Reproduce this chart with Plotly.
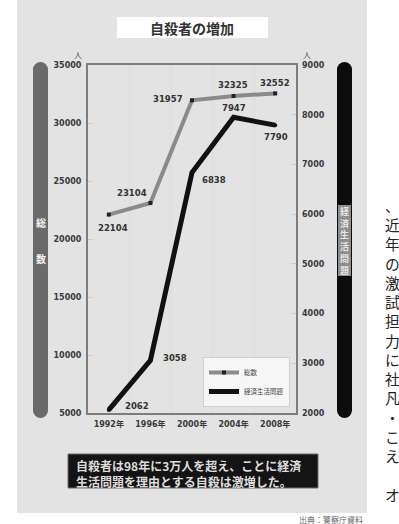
import plotly.graph_objects as go

# Suicide counts in Japan (total vs. economic / livelihood reasons)
years = ["1992年", "1996年", "2000年", "2004年", "2008年"]
total = [22104, 23104, 31957, 32325, 32552]
economic = [2062, 3058, 6838, 7947, 7790]

left_ticks = [5000, 10000, 15000, 20000, 25000, 30000, 35000]
right_ticks = [2000, 3000, 4000, 5000, 6000, 7000, 8000, 9000]

W, H = 399, 524
L, R, T, B = 88, 296, 65, 413

def px(x):
    return (x - L) / (R - L)

def py(y):
    return (B - y) / (B - T)

NUM_FONT = "DejaVu Sans, Noto Sans CJK JP"
JP_FONT = "Noto Sans CJK JP"

fig = go.Figure()
fig.add_trace(go.Scatter(
    x=years, y=total, name="総数", yaxis="y",
    mode="lines+markers",
    line=dict(color="#8a8a8a", width=4),
    marker=dict(size=4, color="#222222", symbol="square"),
))
fig.add_trace(go.Scatter(
    x=years, y=economic, name="経済生活問題", yaxis="y2",
    mode="lines+markers",
    line=dict(color="#111111", width=5),
    marker=dict(size=4, color="#111111"),
))

shapes = []
# grey page panel
shapes.append(dict(type="rect", xref="paper", yref="paper",
                   x0=px(17), x1=px(367), y0=py(513), y1=py(-5),
                   fillcolor="#e3e3e3", line=dict(width=0), layer="below"))
# title box
shapes.append(dict(type="rect", xref="paper", yref="paper",
                   x0=px(117), x1=px(268), y0=py(38), y1=py(17),
                   fillcolor="#ffffff", line=dict(width=0), layer="below"))

# rounded side bars
def side_bar(x0, x1, y0, y1, color):
    r = (x1 - x0) / 2
    out = [dict(type="rect", xref="paper", yref="paper",
                x0=px(x0), x1=px(x1), y0=py(y1 - r), y1=py(y0 + r),
                fillcolor=color, line=dict(width=0), layer="below")]
    for cy in (y0 + r, y1 - r):
        out.append(dict(type="circle", xref="paper", yref="paper",
                        x0=px(x0), x1=px(x1), y0=py(cy + r), y1=py(cy - r),
                        fillcolor=color, line=dict(width=0), layer="below"))
    return out

shapes += side_bar(33, 48, 62, 418, "#6a6a6a")
shapes += side_bar(337, 352, 62, 418, "#0c0c0c")
shapes.append(dict(type="rect", xref="paper", yref="paper",
                   x0=px(338), x1=px(351), y0=py(276), y1=py(205),
                   fillcolor="#8e8e8e", line=dict(width=0)))

# caption box
shapes.append(dict(type="rect", xref="paper", yref="paper",
                   x0=px(68), x1=px(318), y0=py(488), y1=py(454),
                   fillcolor="#141414", line=dict(color="#6a6a6a", width=1)))

annotations = []

def note(x, y, text, size, color, family=JP_FONT, weight="normal",
         xanchor="center", yanchor="middle", align="center"):
    annotations.append(dict(x=px(x), y=py(y), xref="paper", yref="paper",
                            text=text, showarrow=False, align=align,
                            xanchor=xanchor, yanchor=yanchor,
                            font=dict(family=family, size=size, color=color,
                                      weight=weight)))

note(192, 28, "自殺者の増加", 14, "#333333", weight="bold")
note(78, 55, "人", 8, "#555555")
note(307, 55, "人", 8, "#555555")
note(40.5, 223, "総", 10, "#f4f4f4", weight="bold")
note(40.5, 258, "数", 10, "#f4f4f4", weight="bold")
# vertical label on the black bar
note(344.5, 240.5, "<br>".join("経済生活問題"), 9, "#e6e6e6", weight="bold")

note(74, 465, "自殺者は98年に3万人を超え、ことに経済", 12, "#dddddd",
     weight="bold", xanchor="left")
note(74, 481, "生活問題を理由とする自殺は激増した。", 12, "#dddddd",
     weight="bold", xanchor="left")
note(331, 519, "出典：警察庁資料", 8, "#666666")

# body text column of the facing page
column = ["、", "近", "年", "の", "激", "試", "担", "力", "に", "社",
          "凡", "・", "こ", "え", "", "オ"]
note(392, 203 - 9.6, "<br>".join(column), 14.8, "#222222", yanchor="top")

# value labels next to the points
LBL = dict(family=NUM_FONT, size=8.5, color="#333333", weight="bold")
total_shift = [(4, -13), (-18, 10), (-24, 1), (-1, 11), (0, 10)]
econ_shift = [(28, 4), (25, 2), (22, -8), (0, 9), (1, -12)]
for xv, v, (dx, dy) in zip(years, total, total_shift):
    annotations.append(dict(x=xv, y=v, xref="x", yref="y", text=str(v),
                            showarrow=False, xshift=dx, yshift=dy, font=LBL))
for xv, v, (dx, dy) in zip(years, economic, econ_shift):
    annotations.append(dict(x=xv, y=v, xref="x", yref="y2", text=str(v),
                            showarrow=False, xshift=dx, yshift=dy, font=LBL))

TICK = dict(family=NUM_FONT, size=8, color="#3a3a3a", weight="bold")

fig.update_layout(
    width=W, height=H,
    margin=dict(l=L, r=W - R, t=T, b=H - B, pad=0),
    paper_bgcolor="#ffffff",
    plot_bgcolor="#f8f8f8",
    showlegend=True,
    legend=dict(x=px(290), y=py(407), xanchor="right", yanchor="bottom",
                bgcolor="#f6f6f6", bordercolor="#cfcfcf", borderwidth=1,
                font=dict(family=JP_FONT, size=6.5, color="#444444"),
                itemwidth=30, tracegroupgap=0),
    xaxis=dict(type="category", tickson="boundaries",
               showgrid=True, gridcolor="#e0e0e0", gridwidth=4,
               showline=True, linecolor="#7d7d7d", linewidth=2, mirror=True,
               ticks="", tickfont=TICK, ticklabelstandoff=2,
               range=[-0.5, 4.5], fixedrange=True),
    yaxis=dict(range=[5000, 35000], tickvals=left_ticks,
               ticktext=[str(v) for v in left_ticks],
               showgrid=False, zeroline=False,
               showline=True, linecolor="#7d7d7d", linewidth=2, mirror=True,
               ticks="inside", ticklen=5, tickcolor="#cccccc",
               tickfont=TICK, ticklabelstandoff=3),
    yaxis2=dict(range=[2000, 9000], tickvals=right_ticks,
                ticktext=[str(v) for v in right_ticks],
                overlaying="y", side="right",
                showgrid=False, zeroline=False, showline=False,
                ticks="inside", ticklen=5, tickcolor="#cccccc",
                tickfont=TICK, ticklabelstandoff=5),
    shapes=shapes,
    annotations=annotations,
)

fig.write_html("out.html")
